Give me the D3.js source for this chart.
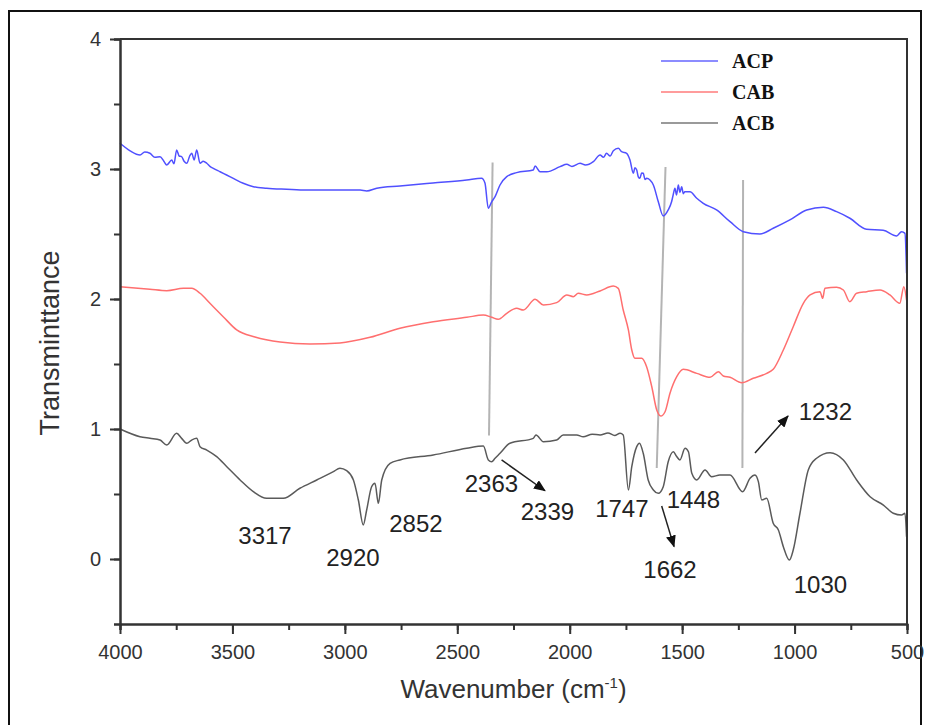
<!DOCTYPE html>
<html>

<head>
  <meta charset='utf-8'>
  <script src="https://cdn.jsdelivr.net/npm/d3@7/dist/d3.min.js"></script>
  <style type="text/css">
    body {
      margin: 0;
      background: #fff;
    }

    .axis path,
    .axis line {
      stroke: #333;
      stroke-width: 2;
    }

    .axis text {
      font-family: "Liberation Sans", Arial, sans-serif;
      font-size: 20px;
      fill: #333;
    }

    .spec {
      fill: none;
      stroke-width: 1.5;
      stroke-linejoin: round;
    }

    .peak {
      font-family: "Liberation Sans", Arial, sans-serif;
      font-size: 24px;
      fill: #222;
      text-anchor: middle;
    }
  </style>
</head>

<body>
  <script>
    let w = 932
    let h = 725
    let margin = { left: 120, right: 25, top: 39, bottom: 101 }

    // ACP (blue) spectrum: wavenumber / transmittance
    let acpWave = [4000, 3955, 3911, 3890, 3867, 3845, 3822, 3805, 3792, 3770, 3760, 3748, 3737, 3726, 3715, 3703, 3690, 3681, 3670, 3659, 3644, 3630, 3614, 3600, 3585, 3555, 3526, 3496, 3452, 3407, 3348, 3259, 3170, 3051, 2932, 2903, 2858, 2755, 2608, 2458, 2392, 2377, 2362, 2347, 2332, 2310, 2280, 2236, 2162, 2154, 2132, 2102, 2043, 2013, 1990, 1954, 1930, 1895, 1865, 1850, 1836, 1820, 1806, 1784, 1769, 1747, 1732, 1717, 1710, 1702, 1695, 1688, 1680, 1673, 1665, 1658, 1643, 1628, 1606, 1584, 1562, 1547, 1540, 1532, 1525, 1517, 1510, 1502, 1495, 1488, 1465, 1435, 1406, 1347, 1287, 1228, 1154, 1095, 1021, 946, 872, 813, 754, 680, 606, 546, 524, 509, 502]
    let acpVal = [3.198, 3.14, 3.108, 3.13, 3.121, 3.09, 3.095, 3.06, 3.031, 3.069, 3.04, 3.146, 3.10, 3.095, 3.06, 3.044, 3.10, 3.121, 3.07, 3.146, 3.044, 3.06, 3.044, 3.02, 3.005, 2.979, 2.954, 2.928, 2.890, 2.864, 2.852, 2.844, 2.838, 2.838, 2.838, 2.831, 2.852, 2.869, 2.892, 2.915, 2.928, 2.892, 2.698, 2.748, 2.787, 2.877, 2.941, 2.972, 2.992, 3.023, 2.979, 2.979, 3.018, 3.036, 3.02, 3.044, 3.03, 3.056, 3.108, 3.09, 3.121, 3.10, 3.141, 3.159, 3.133, 3.121, 3.069, 2.967, 3.01, 2.992, 2.94, 2.928, 2.97, 2.967, 2.92, 2.928, 2.915, 2.877, 2.748, 2.638, 2.685, 2.748, 2.80, 2.852, 2.80, 2.877, 2.82, 2.864, 2.81, 2.825, 2.825, 2.775, 2.736, 2.685, 2.595, 2.518, 2.5, 2.544, 2.608, 2.685, 2.705, 2.672, 2.621, 2.536, 2.529, 2.485, 2.518, 2.505, 2.198]

    // CAB (red) spectrum
    let cabWave = [4000, 3867, 3792, 3718, 3681, 3644, 3600, 3541, 3481, 3400, 3288, 3155, 3022, 2888, 2755, 2607, 2458, 2384, 2347, 2318, 2280, 2236, 2206, 2154, 2117, 2058, 2013, 1984, 1962, 1924, 1865, 1806, 1784, 1762, 1739, 1724, 1710, 1680, 1658, 1635, 1613, 1595, 1576, 1554, 1524, 1495, 1435, 1376, 1339, 1317, 1287, 1235, 1184, 1124, 1095, 1050, 1006, 961, 931, 887, 875, 865, 813, 783, 754, 724, 679, 620, 576, 532, 514, 502]
    let cabVal = [2.095, 2.075, 2.064, 2.082, 2.082, 2.044, 1.967, 1.864, 1.762, 1.708, 1.669, 1.654, 1.662, 1.705, 1.775, 1.825, 1.859, 1.877, 1.859, 1.844, 1.890, 1.928, 1.915, 1.998, 1.954, 1.972, 2.031, 2.018, 2.044, 2.031, 2.062, 2.1, 2.082, 1.915, 1.762, 1.608, 1.544, 1.544, 1.479, 1.325, 1.146, 1.1, 1.133, 1.275, 1.402, 1.459, 1.428, 1.398, 1.441, 1.408, 1.398, 1.356, 1.39, 1.428, 1.459, 1.608, 1.787, 1.967, 2.031, 2.056, 2.005, 2.082, 2.09, 2.069, 1.979, 2.044, 2.056, 2.069, 2.031, 1.967, 2.095, 1.992]

    // ACB (black) spectrum
    let acbWave = [4000, 3911, 3867, 3822, 3792, 3748, 3726, 3703, 3681, 3659, 3644, 3614, 3570, 3525, 3466, 3407, 3348, 3274, 3200, 3125, 3051, 3022, 2992, 2962, 2940, 2918, 2903, 2881, 2866, 2851, 2836, 2799, 2755, 2607, 2458, 2384, 2362, 2347, 2332, 2310, 2266, 2162, 2150, 2117, 2058, 2029, 1969, 1940, 1900, 1865, 1830, 1800, 1776, 1762, 1739, 1724, 1702, 1690, 1673, 1651, 1628, 1606, 1584, 1562, 1539, 1525, 1510, 1487, 1472, 1457, 1435, 1398, 1369, 1332, 1287, 1231, 1198, 1176, 1161, 1146, 1124, 1095, 1072, 1050, 1023, 1006, 976, 939, 902, 842, 783, 724, 664, 605, 561, 524, 509, 502]
    let acbVal = [1.0, 0.941, 0.928, 0.915, 0.877, 0.967, 0.928, 0.890, 0.915, 0.928, 0.864, 0.838, 0.787, 0.710, 0.608, 0.518, 0.467, 0.467, 0.544, 0.608, 0.672, 0.698, 0.679, 0.608, 0.454, 0.262, 0.377, 0.556, 0.582, 0.428, 0.608, 0.736, 0.762, 0.8, 0.852, 0.869, 0.762, 0.748, 0.775, 0.813, 0.890, 0.928, 0.954, 0.902, 0.915, 0.954, 0.954, 0.94, 0.96, 0.954, 0.97, 0.95, 0.967, 0.954, 0.531, 0.710, 0.864, 0.890, 0.813, 0.608, 0.531, 0.505, 0.556, 0.748, 0.825, 0.79, 0.762, 0.852, 0.825, 0.659, 0.608, 0.685, 0.633, 0.646, 0.646, 0.518, 0.621, 0.646, 0.595, 0.454, 0.467, 0.275, 0.223, 0.095, -0.008, 0.069, 0.352, 0.685, 0.775, 0.818, 0.762, 0.608, 0.479, 0.415, 0.352, 0.338, 0.352, 0.172]

    let seriesNames = ["ACP", "CAB", "ACB"]
    let lineColors = ["#5050ff", "#ff6f6f", "#5a5a5a"]
    let legendColors = ["#8c8cff", "#ff9c9c", "#9a9a9a"]

    let xTicks = [4000, 3500, 3000, 2500, 2000, 1500, 1000, 500]
    let yTicks = [0, 1, 2, 3, 4]

    // peak labels: text, wavenumber, transmittance of label baseline
    let peakText = ["3317", "2920", "2852", "2363", "2339", "1747", "1448", "1662", "1030", "1232"]
    let peakWave = [3355, 2964, 2684, 2348, 2099, 1768, 1450, 1554, 885, 863]
    let peakVal = [0.115, -0.054, 0.208, 0.515, 0.3, 0.323, 0.392, -0.146, -0.262, 1.069]

    // gray guide lines [wave top, val top, wave bottom, val bottom]
    let guideLines = [[2343, 3.05, 2359, 0.95], [1574, 3.015, 1613, 0.70], [1229, 2.915, 1232, 0.70]]
    // arrows [wave start, val start, wave end, val end]
    let arrows = [[2303, 0.762, 2110, 0.525], [1591, 0.408, 1536, 0.095], [1176, 0.815, 1029, 1.1]]

    let xScale = d3.scaleLinear()
      .domain([4000, 500])
      .range([margin.left, w - margin.right - 0])

    let yScale = d3.scaleLinear()
      .domain([-0.5, 4])
      .range([h - margin.bottom, margin.top])

    let svg = d3.select('body')
      .append('svg')
      .attr('width', w)
      .attr('height', h);

    // outer frame of the figure
    svg.append("rect")
      .attr("x", 9).attr("y", 11)
      .attr("width", 912).attr("height", 730)
      .attr("fill", "none")
      .attr("stroke", "#111")
      .attr("stroke-width", 2)

    let defs = svg.append("defs")
    defs.append("marker")
      .attr("id", "arrowHead")
      .attr("viewBox", "0 0 12 10")
      .attr("refX", 11).attr("refY", 5)
      .attr("markerWidth", 12).attr("markerHeight", 10)
      .attr("markerUnits", "userSpaceOnUse")
      .attr("orient", "auto")
      .append("path")
      .attr("d", "M0,0 L12,5 L0,10 Z")
      .attr("fill", "#111")

    // guide lines
    svg.selectAll(".guide")
      .data(guideLines)
      .enter()
      .append("line")
      .attr("class", "guide")
      .attr("x1", d => xScale(d[0])).attr("y1", d => yScale(d[1]))
      .attr("x2", d => xScale(d[2])).attr("y2", d => yScale(d[3]))
      .attr("stroke", "#b4b4b4")
      .attr("stroke-width", 2)

    let line = d3.line()
      .curve(d3.curveMonotoneX)
      .x(d => xScale(d[0]))
      .y(d => yScale(d[1]));

    let allSeries = [
      d3.zip(acpWave, acpVal),
      d3.zip(cabWave, cabVal),
      d3.zip(acbWave, acbVal)
    ]

    svg.selectAll(".spec")
      .data(allSeries)
      .enter()
      .append("path")
      .attr("class", "spec")
      .attr("stroke", (d, i) => lineColors[i])
      .attr("d", line);

    // arrows
    svg.selectAll(".arrow")
      .data(arrows)
      .enter()
      .append("line")
      .attr("class", "arrow")
      .attr("x1", d => xScale(d[0])).attr("y1", d => yScale(d[1]))
      .attr("x2", d => xScale(d[2])).attr("y2", d => yScale(d[3]))
      .attr("stroke", "#222")
      .attr("stroke-width", 1.5)
      .attr("marker-end", "url(#arrowHead)")

    // peak labels
    svg.selectAll(".peak")
      .data(peakText)
      .enter()
      .append("text")
      .attr("class", "peak")
      .attr("x", (d, i) => xScale(peakWave[i]))
      .attr("y", (d, i) => yScale(peakVal[i]))
      .text(d => d)

    // axes
    let x0 = margin.left, x1 = w - margin.right
    let y0 = margin.top, y1 = h - margin.bottom

    svg.append("g")
      .attr("class", "axis")
      .attr("transform", "translate(0," + y1 + ")")
      .call(d3.axisBottom(xScale).tickValues(d3.range(4000, 499, -250)).tickSize(6).tickFormat(""))
    svg.append("g")
      .attr("class", "axis")
      .attr("transform", "translate(0," + y1 + ")")
      .call(d3.axisBottom(xScale).tickValues(xTicks).tickSize(10).tickPadding(11).tickSizeOuter(0).tickFormat(d3.format("d")))

    svg.append("g")
      .attr("class", "axis")
      .attr("transform", "translate(" + x0 + ",0)")
      .call(d3.axisLeft(yScale).tickValues(d3.range(-0.5, 4.01, 0.5)).tickSize(6).tickFormat(""))
    svg.append("g")
      .attr("class", "axis")
      .attr("transform", "translate(" + x0 + ",0)")
      .call(d3.axisLeft(yScale).tickValues(yTicks).tickSize(10).tickPadding(9).tickSizeOuter(0).tickFormat(d3.format("d")))

    // top and right frame
    svg.append("path")
      .attr("d", "M" + x0 + "," + y0 + "H" + x1 + "V" + y1)
      .attr("fill", "none")
      .attr("stroke", "#333")
      .attr("stroke-width", 2)

    // axis titles
    let xTitle = svg.append("text")
      .attr("x", (x0 + x1) / 2)
      .attr("y", 698)
      .attr("text-anchor", "middle")
      .style("font-family", "'Liberation Sans', Arial, sans-serif")
      .style("font-size", "26px")
      .attr("fill", "#333")
    xTitle.append("tspan").text("Wavenumber (cm")
    xTitle.append("tspan").attr("dy", -10).style("font-size", "15px").text("-1")
    xTitle.append("tspan").attr("dy", 10).text(")")

    svg.append("text")
      .attr("transform", "translate(59," + 343 + ") rotate(-90)")
      .attr("text-anchor", "middle")
      .style("font-family", "'Liberation Sans', Arial, sans-serif")
      .style("font-size", "27px")
      .attr("fill", "#333")
      .text("Transminttance")

    // legend
    let legend = svg.append("g")
      .attr("transform", "translate(661,61)")
    seriesNames.forEach((name, i) => {
      let g = legend.append("g").attr("transform", "translate(0," + (i * 31) + ")")
      g.append("line")
        .attr("x1", 0).attr("x2", 57)
        .attr("y1", 0).attr("y2", 0)
        .attr("stroke", legendColors[i])
        .attr("stroke-width", 2)
      g.append("text")
        .attr("x", 71)
        .attr("y", 7)
        .style("font-family", "'Liberation Serif', 'Times New Roman', serif")
        .style("font-weight", "bold")
        .style("font-size", "20px")
        .attr("fill", "#111")
        .text(name)
    })
  </script>
</body>

</html>
